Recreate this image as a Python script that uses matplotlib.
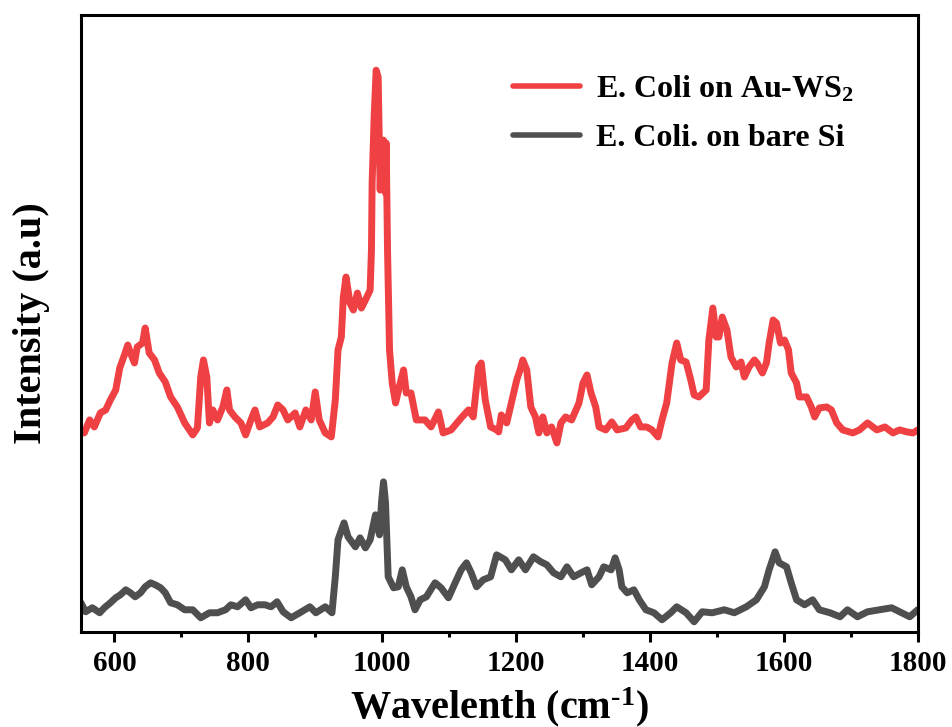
import numpy as np
import matplotlib
matplotlib.use("Agg")
import matplotlib.pyplot as plt
from matplotlib.ticker import MultipleLocator

plt.rcParams['font.family'] = ['Liberation Serif', 'DejaVu Serif']
plt.rcParams['font.weight'] = 'bold'
plt.rcParams['mathtext.fontset'] = 'custom'
plt.rcParams['mathtext.rm'] = 'Liberation Serif:bold'
plt.rcParams['mathtext.it'] = 'Liberation Serif:bold'
plt.rcParams['mathtext.bf'] = 'Liberation Serif:bold'
plt.rcParams['mathtext.default'] = 'rm'

# Raman shift (cm-1) and intensity (a.u.)
wn_auws2 = [550, 555, 563, 570, 579, 587, 594, 602, 608, 615, 620, 624, 630, 634, 642,
            646, 652, 660, 667, 676, 684, 694, 705, 717, 724, 729, 733, 738, 742, 747,
            754, 762, 768, 772, 780, 789, 796, 804, 810, 817, 829, 837, 844, 852, 859,
            870, 877, 886, 894, 900, 906, 915, 924, 930, 934, 939, 942, 946, 952, 957,
            963, 969, 975, 982, 984, 985, 988, 991, 994, 997, 999, 1002, 1005, 1006, 1008,
            1011, 1015, 1020, 1027, 1032, 1036, 1043, 1051, 1064, 1073, 1084, 1091, 1103, 1118, 1129,
            1136, 1144, 1148, 1154, 1162, 1171, 1174, 1178, 1186, 1193, 1201, 1207, 1210, 1216, 1222,
            1229, 1234, 1240, 1246, 1253, 1261, 1267, 1274, 1283, 1294, 1300, 1306, 1312, 1319, 1324,
            1334, 1343, 1351, 1364, 1373, 1379, 1386, 1395, 1403, 1412, 1418, 1425, 1433, 1440, 1446,
            1454, 1461, 1466, 1473, 1484, 1488, 1494, 1499, 1503, 1508, 1515, 1521, 1529, 1536, 1541,
            1548, 1556, 1560, 1568, 1574, 1578, 1584, 1589, 1595, 1601, 1607, 1611, 1619, 1623, 1634,
            1641, 1646, 1653, 1664, 1671, 1679, 1688, 1703, 1713, 1725, 1739, 1751, 1763, 1773, 1784,
            1793, 1800]
int_auws2 = [202, 199, 212, 205, 219, 222, 232, 242, 264, 277, 287, 279, 269, 285, 289,
             304, 279, 272, 259, 250, 235, 225, 209, 197, 204, 255, 272, 255, 209, 222,
             212, 225, 242, 222, 215, 209, 197, 212, 222, 205, 209, 215, 227, 222, 212,
             219, 205, 222, 212, 240, 212, 199, 195, 232, 282, 295, 335, 355, 329, 322,
             339, 324, 332, 342, 382, 449, 515, 562, 555, 442, 482, 492, 439, 489, 382,
             282, 249, 229, 249, 262, 239, 239, 212, 212, 205, 220, 199, 202, 214, 222,
             215, 265, 269, 232, 205, 202, 200, 217, 209, 229, 252, 264, 272, 262, 225,
             215, 199, 215, 199, 205, 189, 209, 215, 212, 229, 249, 257, 239, 225, 205,
             202, 210, 202, 204, 212, 215, 205, 205, 202, 195, 212, 229, 269, 289, 272,
             270, 252, 237, 235, 242, 292, 324, 295, 295, 315, 302, 275, 265, 270, 255,
             265, 272, 269, 259, 269, 289, 312, 309, 289, 292, 282, 259, 249, 235, 235,
             225, 215, 224, 225, 222, 209, 202, 199, 202, 209, 202, 205, 199, 202, 200,
             199, 202]

wn_si = [550, 557, 567, 578, 585, 594, 602, 609, 617, 624, 631, 639, 646, 654, 661,
         669, 676, 684, 694, 705, 717, 729, 742, 754, 766, 774, 784, 796, 804, 814,
         825, 834, 843, 852, 864, 877, 892, 901, 915, 925, 930, 934, 943, 949, 960,
         967, 975, 982, 990, 996, 999, 1002, 1005, 1009, 1017, 1024, 1030, 1036, 1043, 1049,
         1057, 1066, 1079, 1088, 1099, 1109, 1118, 1126, 1133, 1141, 1151, 1162, 1171, 1184, 1193,
         1204, 1214, 1226, 1237, 1246, 1256, 1267, 1276, 1286, 1297, 1306, 1313, 1324, 1331, 1342,
         1348, 1354, 1358, 1366, 1376, 1384, 1394, 1406, 1418, 1431, 1440, 1454, 1466, 1478, 1493,
         1511, 1526, 1544, 1559, 1571, 1578, 1587, 1593, 1604, 1611, 1619, 1631, 1643, 1653, 1669,
         1684, 1695, 1710, 1725, 1743, 1761, 1776, 1788, 1800]
int_si = [29, 20, 24, 19, 24, 29, 34, 37, 42, 39, 35, 39, 45, 49, 47,
          44, 39, 29, 27, 22, 22, 14, 19, 19, 22, 27, 25, 32, 24, 27,
          27, 25, 30, 20, 14, 19, 25, 19, 25, 19, 55, 92, 109, 95, 85,
          94, 84, 92, 117, 97, 129, 150, 129, 55, 44, 45, 62, 45, 35, 22,
          32, 35, 49, 44, 34, 49, 62, 69, 59, 45, 52, 55, 77, 72, 62,
          72, 62, 75, 70, 67, 59, 55, 65, 55, 59, 62, 47, 55, 65, 62,
          74, 62, 45, 39, 42, 32, 22, 19, 12, 19, 25, 19, 10, 20, 19,
          22, 19, 25, 32, 45, 62, 80, 69, 65, 49, 32, 27, 32, 22, 19,
          15, 22, 15, 20, 22, 24, 19, 15, 22]

fig = plt.figure(figsize=(9.52, 7.27), dpi=100)
ax = fig.add_axes([0.085, 0.131, 0.879, 0.848])

ax.plot(wn_auws2, int_auws2, color='#EF4143', lw=5, solid_joinstyle='round',
        solid_capstyle='round', label='E. Coli on Au-WS$_2$')
ax.plot(wn_si, int_si, color='#4F4F4F', lw=5, solid_joinstyle='round',
        solid_capstyle='round', label='E. Coli. on bare Si')

ax.set_xlim(550, 1800)
ax.set_ylim(0, 617)
ax.xaxis.set_major_locator(MultipleLocator(200))
ax.xaxis.set_minor_locator(MultipleLocator(100))
ax.set_yticks([])

for s in ax.spines.values():
    s.set_linewidth(2.2)
ax.tick_params(axis='x', which='major', direction='out', length=7, width=2.2,
               labelsize=21, pad=6)
ax.tick_params(axis='x', which='minor', direction='out', length=3.5, width=2.2)

ax.set_xlabel('Wavelenth (cm$^{\\text{-}1}$)', fontsize=29, fontweight='bold', labelpad=6)
ax.set_ylabel('Intensity (a.u)', fontsize=29, fontweight='bold', labelpad=22)

leg = ax.legend(loc='upper left', bbox_to_anchor=(0.516, 0.905), frameon=False,
                fontsize=23, handlelength=2.1, handletextpad=0.5, labelspacing=0.6,
                borderpad=0, borderaxespad=0)
for h in leg.get_lines():
    h.set_linewidth(4)

fig.savefig('out.png', dpi=100)
